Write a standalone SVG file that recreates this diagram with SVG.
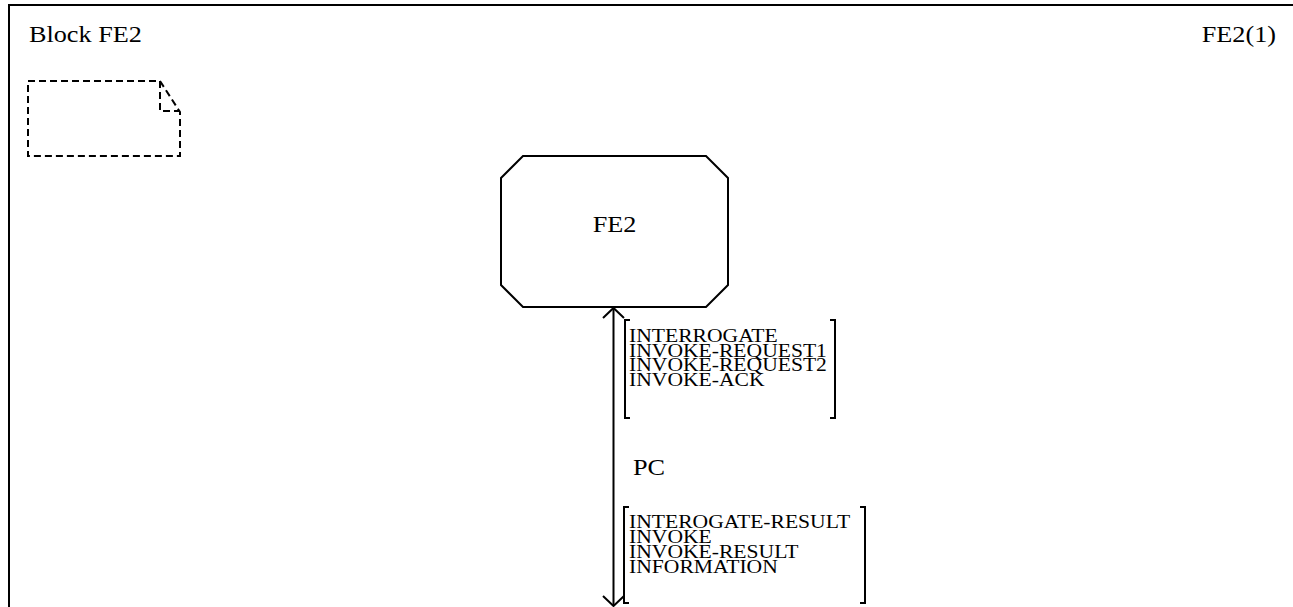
<svg xmlns="http://www.w3.org/2000/svg" width="1293" height="607" viewBox="0 0 1293 607">
<style>
.t{font-family:'Liberation Serif',serif;fill:#000}
.big{font-size:23px}
.lbl{font-size:18px}
.ln{fill:none;stroke:#000;stroke-width:2}
.dash{fill:none;stroke:#000;stroke-width:2;stroke-dasharray:7 4}
</style>
<rect width="1293" height="607" fill="#fff"/>
<g id="frame">
<path class="ln" d="M9,610 V5 H1300"/>
<text class="t big" font-family="Liberation Serif, serif" transform="translate(29,42) scale(1.14,1)">Block FE2</text>
<text class="t big" font-family="Liberation Serif, serif" text-anchor="end" transform="translate(1276,42) scale(1.14,1)">FE2(1)</text>
</g>
<g id="note">
<path class="dash" d="M28,81 H160 L180,112 V156 H28 Z"/>
<path class="dash" d="M160,81 V111 H180"/>
</g>
<g id="FE2">
<path class="ln" d="M523,156 H706 L728,178 V285 L706,307 H523 L501,285 V178 Z"/>
<text class="t big" font-family="Liberation Serif, serif" text-anchor="middle" transform="translate(614.5,232) scale(1.14,1)">FE2</text>
</g>
<g id="connectors">
<line class="ln" x1="613.5" y1="309" x2="613.5" y2="606"/>
<path class="ln" d="M603,318 L613.5,308 L624,318"/>
<path class="ln" d="M603,596 L613.5,606 L624,596"/>
</g>
<g id="signals-in" font-family="Liberation Serif, serif">
<path class="ln" d="M630,320 H625 V418 H630"/>
<path class="ln" d="M830,320 H835 V418 H830"/>
<text class="t lbl" transform="translate(629,342) scale(1.2,1)">INTERROGATE</text>
<text class="t lbl" transform="translate(629,357) scale(1.2,1)">INVOKE-REQUEST1</text>
<text class="t lbl" transform="translate(629,371) scale(1.2,1)">INVOKE-REQUEST2</text>
<text class="t lbl" transform="translate(629,386) scale(1.2,1)">INVOKE-ACK</text>
</g>
<g id="channel-label">
<text class="t big" font-family="Liberation Serif, serif" transform="translate(633,475) scale(1.14,1)">PC</text>
</g>
<g id="signals-out" font-family="Liberation Serif, serif">
<path class="ln" d="M629,507 H624 V603 H629"/>
<path class="ln" d="M860,507 H865 V603 H860"/>
<text class="t lbl" transform="translate(629,528) scale(1.2,1)">INTEROGATE-RESULT</text>
<text class="t lbl" transform="translate(629,543) scale(1.2,1)">INVOKE</text>
<text class="t lbl" transform="translate(629,558) scale(1.2,1)">INVOKE-RESULT</text>
<text class="t lbl" transform="translate(629,573) scale(1.2,1)">INFORMATION</text>
</g>
</svg>
